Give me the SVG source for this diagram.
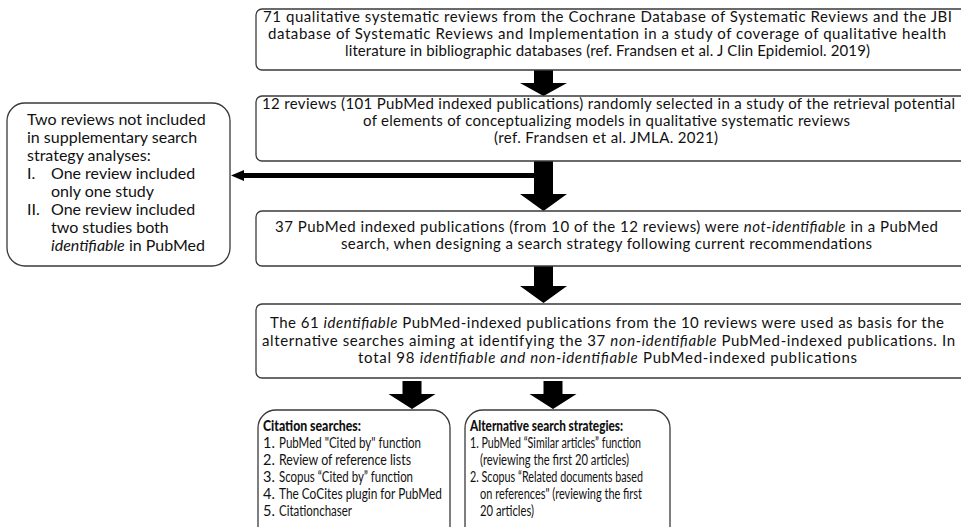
<svg xmlns="http://www.w3.org/2000/svg" width="961" height="527" viewBox="0 0 961 527">
<style>
.box{fill:#fff;stroke:#3a3a3a;stroke-width:1.3}
.t{font-family:Lato,"Liberation Sans",sans-serif;font-size:15px;fill:#111}
.c{text-anchor:middle}
.s{font-family:Lato,"Liberation Sans",sans-serif;font-size:16px;fill:#111}
.m{font-family:Lato,"Liberation Sans",sans-serif;font-size:14.5px;fill:#111}
.h{font-family:Lato,"Liberation Sans",sans-serif;font-size:14.5px;font-weight:900;fill:#111}
.i{font-style:italic}
.arr{fill:#000}
</style>
<rect width="961" height="527" fill="#fff"/>
<g id="connectors">
<polygon class="arr" points="534,70 553,70 553,83 567,83 543.5,96 520,83 534,83"/>
<polygon class="arr" points="534,161 553,161 553,194 567,194 543.5,211 520,194 534,194"/>
<polygon class="arr" points="534,173 534,178 244,178 244,181 231,175.5 244,170 244,173"/>
<polygon class="arr" points="534,266 553,266 553,286 567,286 543.5,303 520,286 534,286"/>
<polygon class="arr" points="402.5,381 421.5,381 421.5,394 435.5,394 412,409 388.5,394 402.5,394"/>
<polygon class="arr" points="543.5,381 562.5,381 562.5,394 576.5,394 553,409 529.5,394 543.5,394"/>
</g>
<g id="n1">
<rect class="box" x="256" y="9" width="720" height="61" rx="6"/>
<text class="t c" x="607.5" y="22" textLength="689" lengthAdjust="spacing">71 qualitative systematic reviews from the Cochrane Database of Systematic Reviews and the JBI</text>
<text class="t c" x="607" y="39" textLength="678" lengthAdjust="spacing">database of Systematic Reviews and Implementation in a study of coverage of qualitative health</text>
<text class="t c" x="607.5" y="56" textLength="525" lengthAdjust="spacing">literature in bibliographic databases (ref. Frandsen et al. J Clin Epidemiol. 2019)</text>
</g>
<g id="n2">
<rect class="box" x="256" y="96" width="720" height="65" rx="6"/>
<text class="t c" x="608.5" y="109" textLength="693" lengthAdjust="spacing">12 reviews (101 PubMed indexed publications) randomly selected in a study of the retrieval potential</text>
<text class="t c" x="606.5" y="126" textLength="487" lengthAdjust="spacing">of elements of conceptualizing models in qualitative systematic reviews</text>
<text class="t c" x="606" y="143" textLength="224" lengthAdjust="spacing">(ref. Frandsen et al. JMLA. 2021)</text>
</g>
<g id="n_excluded">
<rect class="box" x="7" y="103" width="223" height="163" rx="18"/>
<text class="s" x="27" y="125">Two reviews not included</text>
<text class="s" x="27" y="143">in supplementary search</text>
<text class="s" x="27" y="161">strategy analyses:</text>
<text class="s" x="27" y="179">I.</text><text class="s" x="51" y="179">One review included</text>
<text class="s" x="51" y="197">only one study</text>
<text class="s" x="27" y="215">II.</text><text class="s" x="51" y="215">One review included</text>
<text class="s" x="51" y="233">two studies both</text>
<text class="s" x="51" y="251"><tspan class="i">identifiable</tspan> in PubMed</text>
</g>
<g id="n3">
<rect class="box" x="256" y="211" width="720" height="55" rx="6"/>
<text class="t c" x="606.5" y="232" textLength="663" lengthAdjust="spacing">37 PubMed indexed publications (from 10 of the 12 reviews) were <tspan class="i">not-identifiable</tspan> in a PubMed</text>
<text class="t c" x="606.5" y="249" textLength="531" lengthAdjust="spacing">search, when designing a search strategy following current recommendations</text>
</g>
<g id="n4">
<rect class="box" x="256" y="304" width="720" height="74" rx="6"/>
<text class="t c" x="607" y="328" textLength="674" lengthAdjust="spacing">The 61 <tspan class="i">identifiable</tspan> PubMed-indexed publications from the 10 reviews were used as basis for the</text>
<text class="t c" x="608.5" y="346" textLength="693" lengthAdjust="spacing">alternative searches aiming at identifying the 37 <tspan class="i">non-identifiable</tspan> PubMed-indexed publications. In</text>
<text class="t c" x="607.5" y="363" textLength="499" lengthAdjust="spacing">total 98 <tspan class="i">identifiable and non-identifiable</tspan> PubMed-indexed publications</text>
</g>
<g id="n_citation">
<rect class="box" x="258" y="410" width="192" height="140" rx="18"/>
<text class="h" x="263" y="431" textLength="98" lengthAdjust="spacingAndGlyphs">Citation searches:</text>
<text class="m" x="263" y="448">1.</text><text class="m" x="279" y="448" textLength="142" lengthAdjust="spacingAndGlyphs">PubMed "Cited by" function</text>
<text class="m" x="263" y="465">2.</text><text class="m" x="279" y="465" textLength="132" lengthAdjust="spacingAndGlyphs">Review of reference lists</text>
<text class="m" x="263" y="482">3.</text><text class="m" x="279" y="482" textLength="134" lengthAdjust="spacingAndGlyphs">Scopus “Cited by” function</text>
<text class="m" x="263" y="499">4.</text><text class="m" x="279" y="499" textLength="163" lengthAdjust="spacingAndGlyphs">The CoCites plugin for PubMed</text>
<text class="m" x="263" y="516">5.</text><text class="m" x="279" y="516" textLength="73" lengthAdjust="spacingAndGlyphs">Citationchaser</text>
</g>
<g id="n_alternative">
<rect class="box" x="465" y="410" width="205" height="140" rx="18"/>
<text class="h" x="470" y="431" textLength="153" lengthAdjust="spacingAndGlyphs">Alternative search strategies:</text>
<text class="m" x="470" y="448" textLength="171" lengthAdjust="spacingAndGlyphs">1. PubMed “Similar articles” function</text>
<text class="m" x="480" y="465" textLength="149" lengthAdjust="spacingAndGlyphs">(reviewing the first 20 articles)</text>
<text class="m" x="470" y="482" textLength="173" lengthAdjust="spacingAndGlyphs">2. Scopus “Related documents based</text>
<text class="m" x="480" y="499" textLength="162" lengthAdjust="spacingAndGlyphs">on references" (reviewing the first</text>
<text class="m" x="480" y="516" textLength="54" lengthAdjust="spacingAndGlyphs">20 articles)</text>
</g>
</svg>
